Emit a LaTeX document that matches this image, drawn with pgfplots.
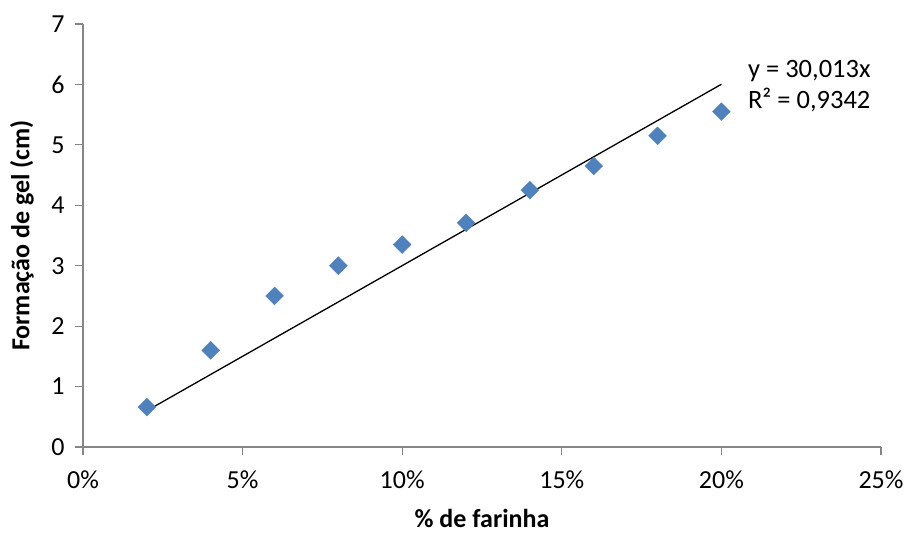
\documentclass[border=0pt]{standalone}
\usepackage{pgfplots}
\pgfplotsset{compat=1.18}
\usepackage{fontspec}
\setmainfont{Carlito}
\definecolor{mkblue}{RGB}{79,129,189}
\definecolor{axgray}{RGB}{134,134,134}
\begin{document}
\begin{tikzpicture}
\begin{axis}[name=ax, scale only axis, width=798pt, height=423pt,
  xmin=0, xmax=0.25, ymin=0, ymax=7,
  axis x line=bottom, axis y line=left,
  axis line style={-, axgray, line width=1.2pt},
  xtick={0,0.05,0.10,0.15,0.20,0.25},
  xticklabels={0\%,5\%,10\%,15\%,20\%,25\%},
  ytick={0,1,2,3,4,5,6,7},
  tick align=outside, major tick length=8pt,
  tick style={axgray, line width=1.2pt},
  ticklabel style={font=\fontsize{26}{31}\selectfont},
  xticklabel style={yshift=-12pt},
  yticklabel style={xshift=-7pt},
  /pgf/number format/assume math mode=true,
  xlabel={\% de farinha}, ylabel={Formação de gel (cm)},
  label style={font=\fontsize{26}{31}\selectfont\bfseries},
  xlabel style={at={(axis description cs:0.5,0)}, anchor=center, yshift=-71pt, inner sep=0pt},
  ylabel style={at={(axis description cs:0,0.5)}, anchor=center, yshift=61pt},
  clip=false,
]
\addplot[only marks, mark=square*, mark size=6.3pt, mark options={rotate=45, fill=mkblue, draw=mkblue}]
  coordinates {(0.02,0.66) (0.04,1.60) (0.06,2.50) (0.08,3.00) (0.10,3.35)
               (0.12,3.71) (0.14,4.25) (0.16,4.65) (0.18,5.15) (0.20,5.55)};
\addplot[black, line width=1.3pt] coordinates {(0.02,0.60026) (0.20,6.0026)};
\node[anchor=north west, align=left, font=\fontsize{26.5}{31}\selectfont, inner sep=0pt]
  at (axis cs:0.2083,6.40) {y = 30,013x\\R² = 0,9342};
\end{axis}
\pgfresetboundingbox
\path ([shift={(-83pt,-87pt)}]ax.south west) rectangle ([shift={(25pt,24pt)}]ax.north east);
\end{tikzpicture}
\end{document}
